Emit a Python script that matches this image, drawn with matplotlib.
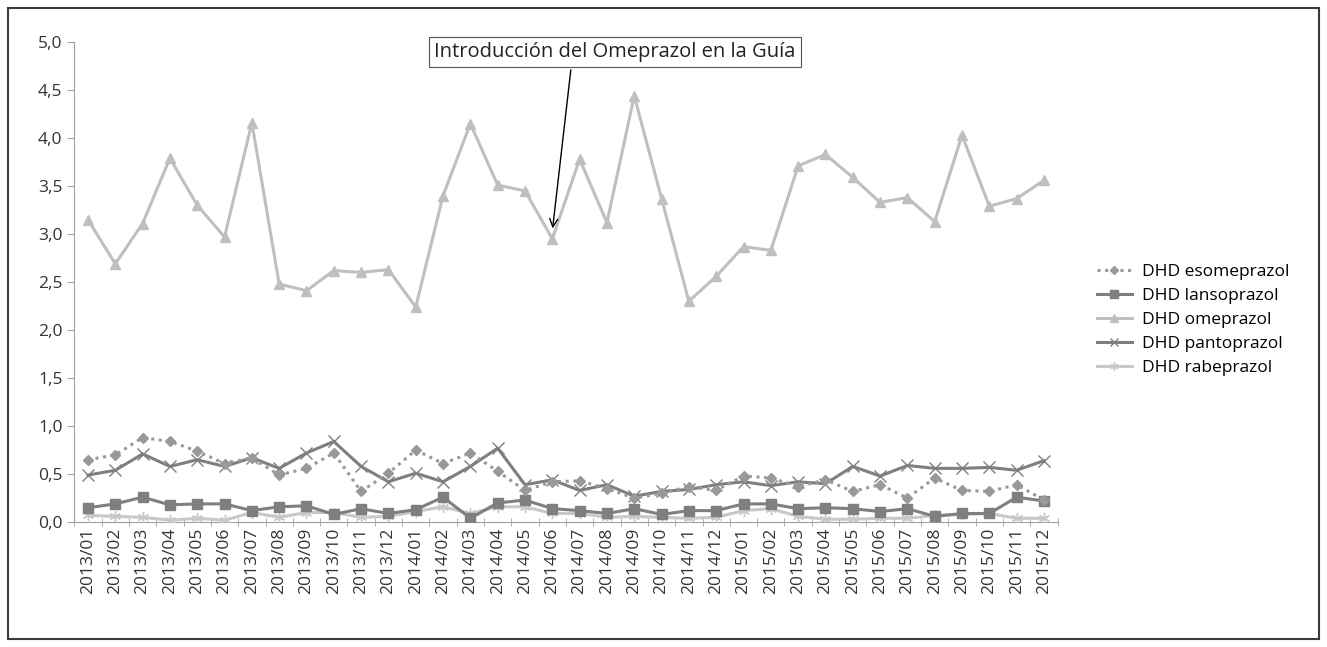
import matplotlib.pyplot as plt
from matplotlib.patches import Rectangle
import numpy as np

plt.rcParams['font.family'] = ['Open Sans', 'DejaVu Sans']

meses = [f"{a}/{m:02d}" for a in (2013, 2014, 2015) for m in range(1, 13)]

esomeprazol = [0.65, 0.70, 0.88, 0.84, 0.74, 0.61, 0.67, 0.49, 0.56, 0.72, 0.32, 0.51,
               0.75, 0.61, 0.72, 0.53, 0.33, 0.42, 0.43, 0.35, 0.25, 0.30, 0.37, 0.33,
               0.48, 0.46, 0.37, 0.44, 0.32, 0.39, 0.25, 0.46, 0.33, 0.32, 0.39, 0.23]
lansoprazol = [0.15, 0.19, 0.26, 0.18, 0.19, 0.19, 0.12, 0.16, 0.17, 0.08, 0.14, 0.09,
               0.13, 0.26, 0.04, 0.20, 0.23, 0.14, 0.12, 0.09, 0.14, 0.08, 0.12, 0.12,
               0.19, 0.19, 0.14, 0.15, 0.14, 0.11, 0.14, 0.06, 0.09, 0.09, 0.26, 0.22]
omeprazol = [3.15, 2.69, 3.11, 3.79, 3.30, 2.97, 4.16, 2.48, 2.41, 2.62, 2.60, 2.63,
             2.24, 3.40, 4.15, 3.51, 3.45, 2.95, 3.78, 3.12, 4.44, 3.37, 2.30, 2.56,
             2.87, 2.83, 3.71, 3.83, 3.59, 3.33, 3.38, 3.13, 4.03, 3.29, 3.37, 3.56]
pantoprazol = [0.49, 0.54, 0.71, 0.58, 0.65, 0.58, 0.67, 0.56, 0.72, 0.84, 0.58, 0.42,
               0.51, 0.42, 0.58, 0.77, 0.39, 0.44, 0.33, 0.39, 0.27, 0.32, 0.34, 0.39,
               0.42, 0.38, 0.42, 0.40, 0.58, 0.48, 0.59, 0.56, 0.56, 0.57, 0.54, 0.64]
rabeprazol = [0.07, 0.06, 0.05, 0.02, 0.04, 0.02, 0.10, 0.05, 0.10, 0.10, 0.05, 0.06,
              0.11, 0.16, 0.09, 0.16, 0.16, 0.09, 0.09, 0.05, 0.06, 0.05, 0.04, 0.05,
              0.12, 0.14, 0.06, 0.03, 0.03, 0.04, 0.04, 0.07, 0.08, 0.09, 0.04, 0.04]

x = np.arange(len(meses))

fig = plt.figure(figsize=(13.27, 6.47), dpi=100)
ax = fig.add_axes([0.056, 0.193, 0.741, 0.742])

# marco exterior
fig.patches.append(Rectangle((0.006, 0.012), 0.988, 0.976, transform=fig.transFigure,
                             fill=False, edgecolor='#3a3a3a', linewidth=1.5))

ax.plot(x, omeprazol, color='#bfbfbf', lw=2.2, marker='^', ms=7, label='DHD omeprazol', zorder=2)
ax.plot(x, rabeprazol, color='#c8c8c8', lw=2.2, marker=(6, 2, 0), ms=8, mew=1,
        label='DHD rabeprazol', zorder=3)
ax.plot(x, lansoprazol, color='#7f7f7f', lw=2.2, marker='s', ms=7, label='DHD lansoprazol', zorder=4)
ax.plot(x, pantoprazol, color='#7f7f7f', lw=2.2, marker='x', ms=8, mew=1,
        label='DHD pantoprazol', zorder=5)
ax.plot(x, esomeprazol, color='#999999', lw=2.2, ls=(0, (1, 1.5)), marker='D', ms=5.5,
        label='DHD esomeprazol', zorder=6)

ax.set_xlim(-0.5, len(meses) - 0.5)
ax.set_ylim(0, 5)
ax.set_yticks(np.arange(0, 5.01, 0.5))
ax.set_yticklabels([f"{v:.1f}".replace('.', ',') for v in np.arange(0, 5.01, 0.5)], fontsize=12.5)
ax.set_xticks(x)
ax.set_xticklabels(meses, rotation=90, fontsize=12.5)
ax.set_xticks(np.arange(-0.5, len(meses), 1), minor=True)
ax.tick_params(axis='x', which='major', length=0, pad=4)
ax.tick_params(axis='x', which='minor', length=6, color='#a0a0a0', direction='inout')
ax.tick_params(axis='y', length=5, color='#a0a0a0', colors='#333333')
ax.tick_params(axis='x', colors='#333333')

for s in ('top', 'right'):
    ax.spines[s].set_visible(False)
for s in ('left', 'bottom'):
    ax.spines[s].set_color('#a0a0a0')

ax.annotate('Introducción del Omeprazol en la Guía', xy=(17, 3.03), xytext=(19.3, 4.9),
            ha='center', va='center', fontsize=14.5, color='#222222',
            bbox=dict(boxstyle='square,pad=0.25', fc='white', ec='#555555', lw=0.8),
            arrowprops=dict(arrowstyle='->', color='black', lw=1,
                            relpos=(0.38, 0)))

handles, labels = ax.get_legend_handles_labels()
orden = ['DHD esomeprazol', 'DHD lansoprazol', 'DHD omeprazol', 'DHD pantoprazol', 'DHD rabeprazol']
h = [handles[labels.index(o)] for o in orden]
fig.legend(h, orden, loc='center left', bbox_to_anchor=(0.815, 0.505), frameon=False,
           fontsize=12.5, handlelength=2.0, handletextpad=0.6, labelspacing=0.45,
           markerscale=0.75)

fig.savefig('out.png', dpi=100)
